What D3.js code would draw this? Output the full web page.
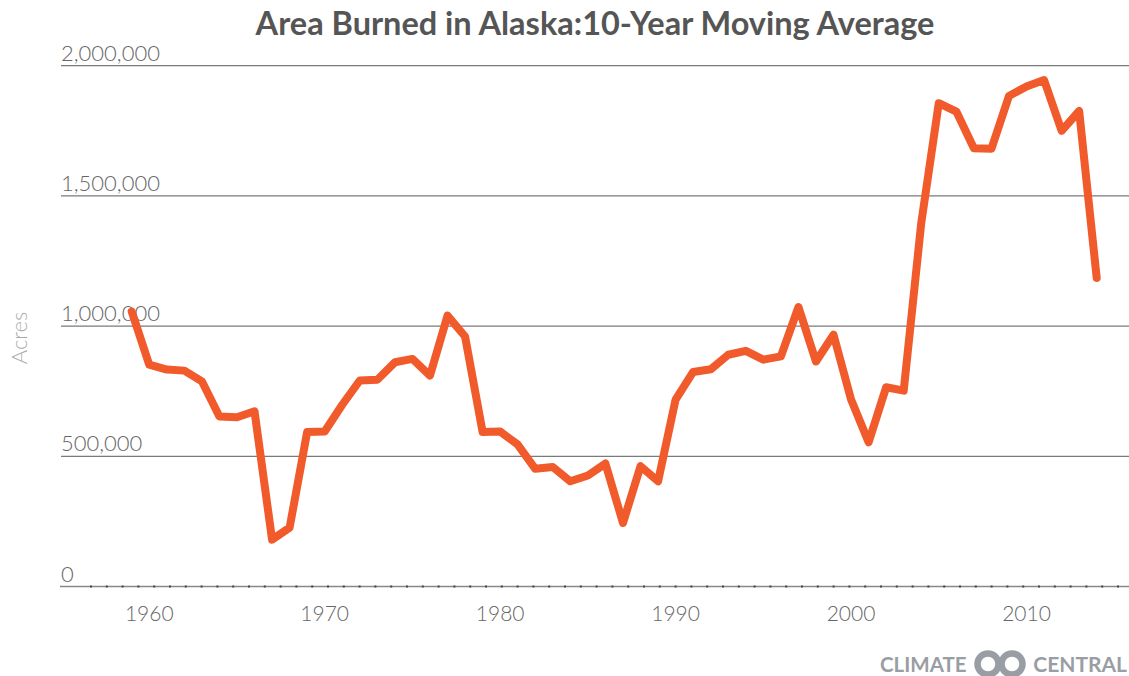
<!DOCTYPE html>
<html>
<head>
<meta charset="utf-8">
<script src="https://cdn.jsdelivr.net/npm/d3@7"></script>
<style>
  body { margin: 0; background: #fff; }
  text { font-family: Lato, "Open Sans", sans-serif; }
</style>
</head>
<body>
<div id="chart"></div>
<script>
// 10-year moving average of acres burned, one value per year
var years = d3.range(1959, 2015);
var acres = [
  1056000, 852000, 833000, 829000, 788000, 653000, 650000, 673000, 180000, 226000,
  593000, 595000, 698000, 791000, 794000, 861000, 874000, 810000, 1040000, 960000,
  593000, 595000, 545000, 452000, 459000, 404000, 426000, 472000, 244000, 462000,
  404000, 718000, 824000, 834000, 890000, 905000, 871000, 884000, 1073000, 864000,
  967000, 718000, 554000, 765000, 752000, 1396000, 1856000, 1824000, 1683000, 1681000,
  1884000, 1920000, 1945000, 1750000, 1826000, 1185000
];
var yTicks = [0, 500000, 1000000, 1500000, 2000000];
var xTicks = [1960, 1970, 1980, 1990, 2000, 2010];

var data = years.map(function (y, i) { return { year: y, value: acres[i] }; });

var W = 1129, H = 676;
var svg = d3.select("#chart").append("svg")
    .attr("width", W)
    .attr("height", H);

var x = d3.scaleLinear().domain([1959, 2014]).range([131.7, 1096.7]);
var y = d3.scaleLinear().domain([0, 2000000]).range([586.5, 65.7]);

// title
svg.append("text")
    .attr("x", 595)
    .attr("y", 35)
    .attr("text-anchor", "middle")
    .attr("font-size", 32.5)
    .attr("font-weight", "bold")
    .attr("fill", "#555")
    .text("Area Burned in Alaska:10-Year Moving Average");

// gridlines + y labels sitting on top of them
var grid = svg.append("g");
grid.selectAll("line")
    .data(yTicks.filter(function (d) { return d > 0; }))
    .enter().append("line")
    .attr("x1", 61).attr("x2", W)
    .attr("y1", function (d) { return y(d); })
    .attr("y2", function (d) { return y(d); })
    .attr("stroke", "#7a7a7a")
    .attr("stroke-width", 1.3);

grid.selectAll("text")
    .data(yTicks)
    .enter().append("text")
    .attr("x", 61)
    .attr("y", function (d) { return y(d) - 5; })
    .attr("font-size", 22)
    .attr("font-weight", 300)
    .attr("fill", "#666")
    .text(function (d) { return d3.format(",")(d); });

// x axis line with small dotted ticks
svg.append("line")
    .attr("x1", 60).attr("x2", W)
    .attr("y1", y(0)).attr("y2", y(0))
    .attr("stroke", "#888")
    .attr("stroke-width", 1.5);
svg.append("line")
    .attr("x1", 90).attr("x2", W)
    .attr("y1", y(0)).attr("y2", y(0))
    .attr("stroke", "#444")
    .attr("stroke-width", 2)
    .attr("stroke-dasharray", "2,13.8");

var xAxis = svg.append("g");
xAxis.selectAll("text")
    .data(xTicks)
    .enter().append("text")
    .attr("x", function (d) { return x(d); })
    .attr("y", 621)
    .attr("text-anchor", "middle")
    .attr("font-size", 21)
    .attr("font-weight", 300)
    .attr("fill", "#666")
    .text(function (d) { return d; });

// y axis title
svg.append("text")
    .attr("transform", "translate(27,338) rotate(-90)")
    .attr("text-anchor", "middle")
    .attr("font-size", 22)
    .attr("font-weight", 300)
    .attr("fill", "#aaa")
    .text("Acres");

// the series
var line = d3.line()
    .x(function (d) { return x(d.year); })
    .y(function (d) { return y(d.value); });

svg.append("path")
    .datum(data)
    .attr("d", line)
    .attr("fill", "none")
    .attr("stroke", "#f15a2b")
    .attr("stroke-width", 8)
    .attr("stroke-linejoin", "round")
    .attr("stroke-linecap", "round");

// logo
var logo = svg.append("g").attr("fill", "#989ea3");
logo.append("text")
    .attr("x", 880).attr("y", 672)
    .attr("font-size", 20.5)
    .attr("font-weight", "bold")
    .text("CLIMATE");
logo.append("text")
    .attr("x", 1127).attr("y", 672)
    .attr("text-anchor", "end")
    .attr("font-size", 21)
    .attr("font-weight", "bold")
    .text("CENTRAL");
logo.append("circle").attr("cx", 988).attr("cy", 664).attr("r", 10.5)
    .attr("fill", "none").attr("stroke", "#989ea3").attr("stroke-width", 6.5);
logo.append("circle").attr("cx", 1012).attr("cy", 664).attr("r", 10.5)
    .attr("fill", "none").attr("stroke", "#989ea3").attr("stroke-width", 6.5);
</script>
</body>
</html>
